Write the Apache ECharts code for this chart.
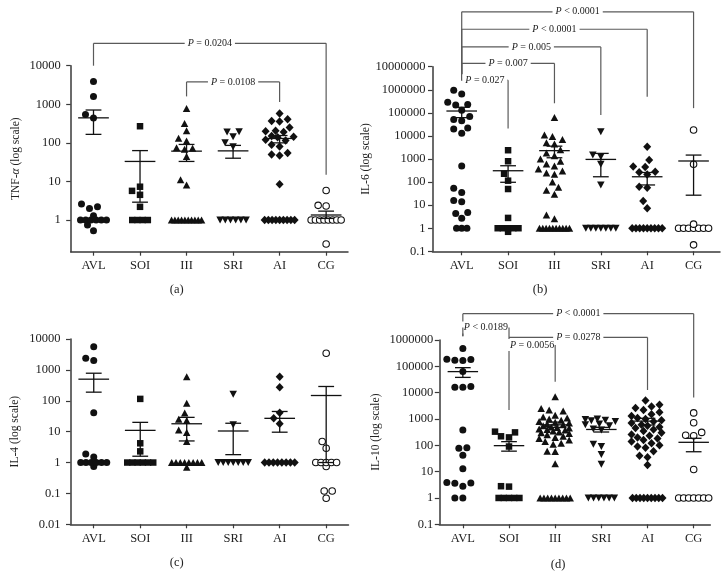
<!DOCTYPE html>
<html><head><meta charset="utf-8">
<script src="https://cdn.jsdelivr.net/npm/echarts@6/dist/echarts.min.js"></script>
<style>html,body{margin:0;padding:0;background:#fff}#c{width:725px;height:576px}</style>
</head><body><div id="c"></div>
<script>
const categories = ['AVL','SOI','III','SRI','AI','CG'];

// ---- (a) TNF-alpha ----
const tnfAVL = [3900, 1600, 540, 440, 2.6, 2.2, 2.0, 1.3, 1, 1, 1, 1, 1, 1, 0.74, 0.53];
const tnfSOI = [270, 7.3, 5.7, 4.5, 2.2, 1, 1, 1, 1];
const tnfIII = [780, 318, 205, 131, 112, 75, 72, 68, 44, 11, 8.1, 1, 1, 1, 1, 1, 1, 1, 1, 1, 1];
const tnfSRI = [194, 190, 144, 100, 79, 1, 1, 1, 1, 1, 1];
const tnfAI  = [580, 410, 370, 360, 250, 205, 200, 190, 150, 145, 140, 120, 115, 90, 80, 55, 50, 47, 8.4, 1, 1, 1, 1, 1, 1, 1, 1, 1];
const tnfCG  = [5.8, 2.4, 2.3, 1, 1, 1, 1, 1, 1, 1, 1, 0.24];
const tnfMean    = [445, 33, 61, 62, 130, 1.35];
const tnfSemLow  = [166, 2.9, 33, 40, 100, 1.1];
const tnfSemHigh = [710, 63, 91, 86, 155, 1.7];
const tnfTicks = [1, 10, 100, 1000, 10000];
const tnfBrFrom = [0, 2];
const tnfBrTo = [5, 4];
const tnfBrTop = [38000, 3800];
const tnfBrLeftEnd = [10000, 1600];
const tnfBrRightEnd = [15, 1150];
const tnfBrLabel = ['P = 0.0204', 'P = 0.0108'];

// ---- (b) IL-6 ----
const il6AVL = [950000, 650000, 290000, 230000, 220000, 130000, 70000, 52000, 45000, 22000, 20000, 13000, 500, 54, 35, 16, 14, 4.8, 4.4, 2.7, 1, 1, 1];
const il6SOI = [2400, 800, 230, 115, 50, 2.8, 1, 1, 1, 1, 1, 0.7];
const il6III = [63000, 11000, 9500, 7000, 5000, 4500, 2500, 1800, 1400, 1000, 800, 600, 500, 370, 300, 250, 220, 100, 60, 44, 30, 3.7, 2.6, 1, 1, 1, 1, 1, 1, 1, 1, 1, 1];
const il6SRI = [15000, 1500, 1250, 590, 74, 1, 1, 1, 1, 1, 1, 1];
const il6AI  = [3400, 900, 470, 450, 280, 265, 215, 63, 57, 15, 7.3, 1, 1, 1, 1, 1, 1, 1, 1, 1];
const il6CG  = [18000, 590, 1.5, 1, 1, 1, 1, 1, 1, 1, 0.19];
const il6Mean    = [120000, 310, 2300, 960, 170, 820];
const il6SemLow  = [62000, 98, 1130, 170, 75, 27];
const il6SemHigh = [174000, 510, 3600, 1750, 260, 1480];
const il6Ticks = [0.1, 1, 10, 100, 1000, 10000, 100000, 1000000, 10000000];
const il6BrFrom = [0, 0, 0, 0, 0];
const il6BrTo = [5, 4, 3, 2, 1];
const il6BrTop = [2.4e9, 4.2e8, 7.2e7, 1.4e7, 2.6e6];
const il6BrLeftEnd = [2.6e6, 2.6e6, 2.6e6, 2.6e6, 2.6e6];
const il6BrRightEnd = [160000, 500000, 80000, 260000, 21000];
const il6BrLabel = ['P < 0.0001', 'P < 0.0001', 'P = 0.005', 'P = 0.007', 'P = 0.027'];

// ---- (c) IL-4 ----
const il4AVL = [5600, 2400, 2000, 41, 1.9, 1.5, 1, 1, 1, 1, 1, 1, 0.75];
const il4SOI = [115, 4.2, 2.3, 1, 1, 1, 1, 1, 1];
const il4III = [600, 83, 40, 25, 23, 11.4, 9.3, 4.8, 1, 1, 1, 1, 1, 1, 1, 1, 0.7];
const il4SRI = [163, 16.6, 1, 1, 1, 1, 1, 1, 1];
const il4AI  = [600, 275, 41, 27, 18, 1, 1, 1, 1, 1, 1, 1, 1];
const il4CG  = [3450, 4.8, 2.9, 1, 1, 1, 1, 1, 0.74, 0.12, 0.12, 0.07];
const il4Mean    = [500, 11, 18, 10.5, 27, 148];
const il4SemLow  = [190, 1.6, 5, 1.8, 9.6, 1.0];
const il4SemHigh = [780, 20, 29, 18.7, 45, 290];
const il4Ticks = [0.01, 0.1, 1, 10, 100, 1000, 10000];

// ---- (d) IL-10 ----
const il10AVL = [480000, 185000, 180000, 170000, 165000, 63000, 17000, 16000, 16000, 380, 80, 78, 42, 13, 3.9, 3.7, 3.6, 2.8, 1, 1];
const il10SOI = [330, 310, 220, 200, 90, 2.8, 2.7, 1, 1, 1, 1, 1];
const il10III = [7000, 2500, 2200, 2000, 1400, 1200, 1100, 1000, 900, 800, 750, 700, 650, 600, 550, 500, 480, 450, 420, 400, 380, 350, 320, 300, 280, 250, 220, 200, 180, 160, 140, 120, 110, 60, 58, 20, 1, 1, 1, 1, 1, 1, 1, 1, 1];
const il10SRI = [1000, 950, 900, 850, 800, 650, 600, 550, 420, 380, 110, 90, 45, 19, 1, 1, 1, 1, 1, 1];
const il10AI  = [5000, 3500, 3000, 2600, 2200, 1800, 1500, 1300, 1100, 1000, 900, 800, 700, 600, 550, 500, 450, 400, 350, 300, 260, 230, 200, 180, 160, 140, 120, 100, 90, 80, 60, 40, 35, 18, 1, 1, 1, 1, 1, 1, 1, 1, 1];
const il10CG  = [1700, 720, 310, 240, 230, 12, 1, 1, 1, 1, 1, 1, 1];
const il10Mean    = [63000, 97, 600, 400, 830, 130];
const il10SemLow  = [38000, 60, 480, 320, 590, 57];
const il10SemHigh = [89000, 138, 760, 480, 1060, 185];
const il10Ticks = [0.1, 1, 10, 100, 1000, 10000, 100000, 1000000];
const il10BrFrom = [0, 0, 1, 1];
const il10BrTo = [5, 1, 4, 2];
const il10BrTop = [1.0e7, 3.0e6, 1.26e6, 650000];
const il10BrLeftEnd = [1.4e6, 1.4e6, 1.26e6, 650000];
const il10BrRightEnd = [6500, 2200, 12600, 26000];
const il10BrLabel = ['P < 0.0001', 'P < 0.0189', 'P = 0.0278', 'P = 0.0056'];

// ---------------- layout & style ----------------
const FONT = '"Liberation Serif", "Times New Roman", serif';
const INK = '#111';
const AXIS = '#3a3a3a';
const BR = '#5a5a5a';

const markers = [
  {symbol: 'circle', size: 7, fill: INK},
  {symbol: 'rect', size: 6.5, fill: INK},
  {symbol: 'triangle', size: [7.5, 7], fill: INK},
  {symbol: 'triangle', size: [7.5, 7], fill: INK, rotate: 180},
  {symbol: 'diamond', size: [8, 8.5], fill: INK},
  {symbol: 'circle', size: 6.5, fill: '#fff', border: INK}
];

const panels = [
  {groups: [tnfAVL, tnfSOI, tnfIII, tnfSRI, tnfAI, tnfCG], mean: tnfMean, lo: tnfSemLow, hi: tnfSemHigh, ticks: tnfTicks,
   yMin: 0.151, yMax: 10000, xMin: -0.49, xMax: 5.47, box: {left: 70.7, top: 65.7, width: 277.3, height: 186},
   name: 'TNF-{i|α} (log scale)', nameGap: 49, labelMargin: 10,
   br: {from: tnfBrFrom, to: tnfBrTo, top: tnfBrTop, le: tnfBrLeftEnd, re: tnfBrRightEnd, label: tnfBrLabel},
   caption: '(a)', cap: [176.7, 290]},
  {groups: [il6AVL, il6SOI, il6III, il6SRI, il6AI, il6CG], mean: il6Mean, lo: il6SemLow, hi: il6SemHigh, ticks: il6Ticks,
   yMin: 0.1, yMax: 1e7, xMin: -0.63, xMax: 5.57, box: {left: 432.5, top: 66.7, width: 287.5, height: 184.6},
   name: 'IL-6 (log scale)', nameGap: 51, labelMargin: 7,
   br: {from: il6BrFrom, to: il6BrTo, top: il6BrTop, le: il6BrLeftEnd, re: il6BrRightEnd, label: il6BrLabel},
   caption: '(b)', cap: [540, 290]},
  {groups: [il4AVL, il4SOI, il4III, il4SRI, il4AI, il4CG], mean: il4Mean, lo: il4SemLow, hi: il4SemHigh, ticks: il4Ticks,
   yMin: 0.01, yMax: 10000, xMin: -0.5, xMax: 5.48, box: {left: 70.5, top: 339, width: 278, height: 185.3},
   name: 'IL-4 (log scale)', nameGap: 50, labelMargin: 10, br: null,
   caption: '(c)', cap: [176.7, 563]},
  {groups: [il10AVL, il10SOI, il10III, il10SRI, il10AI, il10CG], mean: il10Mean, lo: il10SemLow, hi: il10SemHigh, ticks: il10Ticks,
   yMin: 0.1, yMax: 1e6, xMin: -0.51, xMax: 5.36, box: {left: 439.3, top: 340, width: 271, height: 184.3},
   name: 'IL-10 (log scale)', nameGap: 57, labelMargin: 6,
   br: {from: il10BrFrom, to: il10BrTo, top: il10BrTop, le: il10BrLeftEnd, re: il10BrRightEnd, label: il10BrLabel},
   caption: '(d)', cap: [558, 565]}
];

// GraphPad-like spreading: tied values form a compressed row, others avoid collisions
function swarm(values, pxPerDec, pxPerCat) {
  const D = 7.5, S = 2, MAXOFF = 15;
  const counts = {};
  values.forEach(v => { counts[v] = (counts[v] || 0) + 1; });
  const sorted = values.slice().sort((a, b) => a - b);
  const out = [], placed = [], done = {};
  sorted.forEach(v => {
    if (counts[v] >= 3) {
      if (done[v]) return;
      done[v] = true;
      const n = counts[v];
      const w = Math.min(5.2 * (n - 1), 30);
      for (let k = 0; k < n; k++) out.push([(k - (n - 1) / 2) * w / (n - 1) / pxPerCat, v]);
      return;
    }
    const y = Math.log10(v) * pxPerDec;
    let best = 0, bestOv = Infinity;
    for (let j = 0; j <= 2 * MAXOFF / S; j++) {
      const dx = (j % 2 ? -1 : 1) * Math.ceil(j / 2) * S;
      let ov = 0;
      placed.forEach(p => {
        const d = Math.hypot(p[0] - dx, p[1] - y);
        if (d < D) ov = Math.max(ov, D - d);
      });
      if (ov === 0) { best = dx; bestOv = 0; break; }
      if (ov < bestOv) { bestOv = ov; best = dx; }
    }
    placed.push([best, y]);
    out.push([best / pxPerCat, v]);
  });
  return out;
}

function errRender(params, api) {
  const i = api.value(0), m = api.value(1), lo = api.value(2), hi = api.value(3);
  const c = api.coord([i, m]);
  const cl = api.coord([i, lo]);
  const ch = api.coord([i, hi]);
  const unit = api.coord([i + 1, m])[0] - c[0];
  const mw = unit * 0.33, cw = unit * 0.17;
  const st = {stroke: INK, lineWidth: 1.3};
  return {type: 'group', children: [
    {type: 'line', shape: {x1: c[0], y1: ch[1], x2: c[0], y2: cl[1]}, style: st},
    {type: 'line', shape: {x1: c[0] - cw, y1: ch[1], x2: c[0] + cw, y2: ch[1]}, style: st},
    {type: 'line', shape: {x1: c[0] - cw, y1: cl[1], x2: c[0] + cw, y2: cl[1]}, style: st},
    {type: 'line', shape: {x1: c[0] - mw, y1: c[1], x2: c[0] + mw, y2: c[1]}, style: st}
  ]};
}

function makeBracketRender(labels) {
  return function (params, api) {
    const f = api.value(0), t = api.value(1), top = api.value(2), le = api.value(3), re = api.value(4);
    const a = api.coord([f, top]), b = api.coord([t, top]);
    const l = api.coord([f, le]), r = api.coord([t, re]);
    const st = {stroke: BR, lineWidth: 1.2};
    return {type: 'group', children: [
      {type: 'line', shape: {x1: a[0], y1: a[1], x2: b[0], y2: b[1]}, style: st},
      {type: 'text', x: (a[0] + b[0]) / 2, y: a[1], style: {
        text: labels[params.dataIndex].replace(/^P/, '{i|P}'),
        fontFamily: FONT, fontSize: 10, fill: '#222',
        align: 'center', verticalAlign: 'middle',
        backgroundColor: '#fff', padding: [1, 3],
        rich: {i: {fontStyle: 'italic', fontFamily: FONT, fontSize: 10, fill: '#222'}}
      }},
      {type: 'line', shape: {x1: a[0], y1: l[1], x2: a[0], y2: a[1]}, style: st},
      {type: 'line', shape: {x1: b[0], y1: b[1], x2: b[0], y2: r[1]}, style: st}
    ]};
  };
}

const fmtY = v => {
  const n = Number(v);
  return n >= 1 ? String(Math.round(n)) : String(+n.toPrecision(3));
};

const option = {animation: false, backgroundColor: '#fff', grid: [], xAxis: [], yAxis: [], series: [], graphic: []};
const catIdx = categories.map((c, i) => i);

panels.forEach((p, pi) => {
  option.grid.push(Object.assign({containLabel: false, outerBoundsMode: 'none'}, p.box));
  option.xAxis.push({
    gridIndex: pi, type: 'value', min: p.xMin, max: p.xMax,
    axisLine: {show: true, onZero: false, lineStyle: {color: AXIS, width: 1.5}},
    axisTick: {show: true, customValues: catIdx, length: 4, lineStyle: {color: AXIS, width: 1.2}},
    axisLabel: {show: true, customValues: catIdx, formatter: v => categories[Math.round(v)] || '',
      fontFamily: FONT, fontSize: 12.5, color: '#222', margin: 8},
    splitLine: {show: false}
  });
  option.yAxis.push({
    gridIndex: pi, type: 'log', logBase: 10, min: p.yMin, max: p.yMax,
    axisLine: {show: true, onZero: false, lineStyle: {color: AXIS, width: 1.5}},
    axisTick: {show: true, customValues: p.ticks, length: 4.5, lineStyle: {color: AXIS, width: 1.2}},
    axisLabel: {show: true, customValues: p.ticks, formatter: fmtY,
      fontFamily: FONT, fontSize: 12.5, color: '#222', margin: p.labelMargin},
    splitLine: {show: false},
    name: p.name, nameLocation: 'middle', nameGap: p.nameGap, nameRotate: 90,
    nameTextStyle: {fontFamily: FONT, fontSize: 11.5, color: '#222',
      rich: {i: {fontStyle: 'italic', fontFamily: FONT, fontSize: 11.5, color: '#222'}}}
  });
  const pxPerDec = p.box.height / (Math.log10(p.yMax) - Math.log10(p.yMin));
  const pxPerCat = p.box.width / (p.xMax - p.xMin);
  p.groups.forEach((vals, g) => {
    const mk = markers[g];
    option.series.push({
      type: 'scatter', xAxisIndex: pi, yAxisIndex: pi, silent: true, z: 2,
      data: swarm(vals, pxPerDec, pxPerCat).map(([dx, v]) => [g + dx, v]),
      symbol: mk.symbol, symbolSize: mk.size, symbolRotate: mk.rotate || 0,
      itemStyle: {color: mk.fill, borderColor: mk.border || mk.fill, borderWidth: mk.border ? 1.1 : 0, opacity: 1}
    });
  });
  option.series.push({
    type: 'custom', xAxisIndex: pi, yAxisIndex: pi, silent: true, z: 3, clip: false,
    renderItem: errRender,
    data: p.mean.map((m, g) => [g, m, p.lo[g], p.hi[g]])
  });
  if (p.br) {
    option.series.push({
      type: 'custom', xAxisIndex: pi, yAxisIndex: pi, silent: true, z: 4, clip: false,
      renderItem: makeBracketRender(p.br.label),
      data: p.br.from.map((f, k) => [f, p.br.to[k], p.br.top[k], p.br.le[k], p.br.re[k]])
    });
  }
  option.graphic.push({type: 'text', x: p.cap[0], y: p.cap[1], silent: true,
    style: {text: p.caption, fontFamily: FONT, fontSize: 12.5, fill: '#222', align: 'center', verticalAlign: 'middle'}});
});

const chart = echarts.init(document.getElementById('c'), null, {renderer: 'canvas'});
chart.setOption(option);
</script>
</body></html>
